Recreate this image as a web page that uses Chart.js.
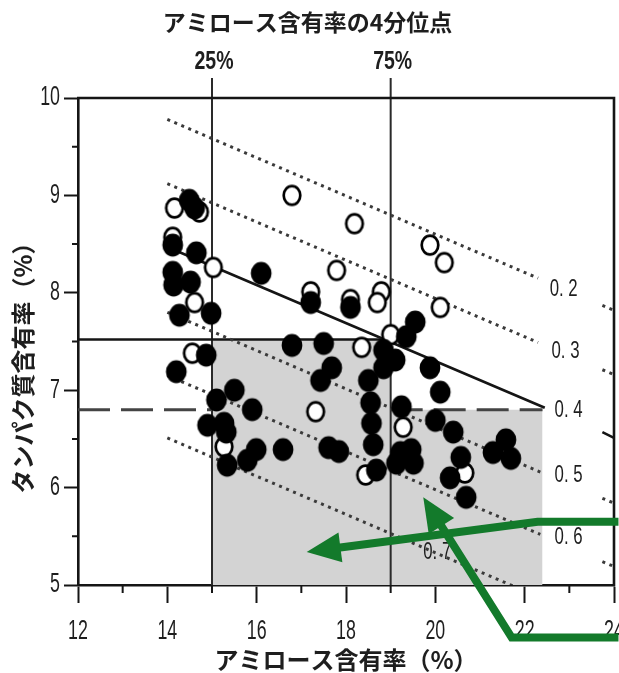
<!DOCTYPE html>
<html>
<head>
<meta charset="utf-8">
<script src="https://cdn.jsdelivr.net/npm/chart.js@4.4.1/dist/chart.umd.min.js"></script>
<style>
  html, body { margin: 0; padding: 0; background: #fff; }
  #wrap { width: 619px; height: 673px; }
</style>
</head>
<body>
<div id="wrap"><canvas id="amyloseChart"></canvas></div>
<script>
// =====================
// Data
// =====================
const filledPoints = [
  [14.49, 8.95], [14.61, 8.87], [14.12, 8.49], [14.65, 8.41], [14.12, 8.21], [14.14, 8.08],
  [14.52, 8.11], [14.27, 7.77], [14.98, 7.79], [16.10, 8.20], [14.87, 7.36], [14.20, 7.19],
  [15.50, 7.00], [15.10, 6.90], [15.90, 6.80], [14.90, 6.64], [15.27, 6.66], [15.32, 6.57],
  [15.34, 6.23], [15.79, 6.28], [15.99, 6.39], [16.59, 6.39], [16.79, 7.46], [17.50, 7.48],
  [17.21, 7.90], [18.10, 7.85], [17.68, 7.23], [17.43, 7.10], [18.84, 7.23], [18.50, 7.10],
  [18.84, 7.41], [19.10, 7.31], [19.35, 7.55], [19.55, 7.70], [18.55, 6.87], [18.57, 6.66],
  [18.61, 6.44], [18.68, 6.18], [19.24, 6.83], [17.61, 6.41], [17.84, 6.37], [19.22, 6.36],
  [19.46, 6.39], [19.51, 6.25], [19.13, 6.25], [19.88, 7.23], [20.11, 6.98], [20.00, 6.69],
  [20.40, 6.57], [20.57, 6.31], [20.33, 6.10], [20.69, 5.90], [21.29, 6.36], [21.58, 6.49],
  [21.69, 6.30]
];
const openPoints = [
  [14.16, 8.87], [14.72, 8.83], [16.79, 9.00], [18.19, 8.71], [19.88, 8.49], [20.20, 8.31],
  [15.03, 8.26], [17.79, 8.23], [20.11, 7.85], [14.61, 7.90], [17.21, 8.01], [18.10, 7.93],
  [18.79, 8.01], [18.70, 7.90], [19.00, 7.57], [14.56, 7.38], [17.32, 6.78], [18.35, 7.44],
  [19.28, 6.62], [18.44, 6.13], [15.27, 6.42], [20.66, 6.15], [14.12, 8.57]
];

const xTickValues = [12, 14, 16, 18, 20, 22, 24];
const xMinorTicks = [13, 15, 17, 19, 21, 23];
const yTickValues = [5, 6, 7, 8, 9, 10];
const yMinorTicks = [5.5, 6.5, 7.5, 8.5, 9.5];

const quartileX = [15, 19];
const quartileLabels = ['25%', '75%'];
const protein75 = 7.52;   // solid horizontal
const protein25 = 6.80;   // dashed horizontal
const shadeRight = 22.4;

// iso lines (0.4 is the solid regression line)
const isoLabels = ['0.2', '0.3', '0.4', '0.5', '0.6', '0.7'];
const isoStart = [[14, 9.78], [14, 9.12], [14, 8.47], [14, 7.80], [14, 7.15], [14, 6.51]];
const isoEnd = [[22.3, 8.15], [22.3, 7.49], [22.45, 6.82], [22.35, 6.16], [22.35, 5.52], [22.3, 4.88]];
const isoTailStart = [[23.74, 7.87], [23.74, 7.21], [23.74, 6.57], [23.74, 5.89], [23.74, 5.24], null];
const isoTailEnd = [[24, 7.82], [24, 7.16], [24, 6.51], [24, 5.84], [24, 5.19], null];
const isoLabelAt = [[22.56, 8.04], [22.60, 7.40], [22.67, 6.79], [22.67, 6.13], [22.67, 5.49], [19.73, 5.34]];

// green annotation arrows (last point is the tip)
const arrowA = [[24.1, 5.65], [22.29, 5.65], [17.12, 5.34]];
const arrowB = [[24.1, 4.46], [21.71, 4.46], [19.73, 5.90]];

// =====================
// Styles
// =====================
const jpFont = '"Noto Sans CJK JP", "Noto Sans", sans-serif';
const numFont = '"Liberation Sans", Arial, sans-serif';
const INK = '#151515';
const TEXT = '#1e1e1e';

function markerImage(filled) {
  const c = document.createElement('canvas');
  c.width = 24; c.height = 26;
  const g = c.getContext('2d');
  g.beginPath();
  if (filled) {
    g.ellipse(12, 13, 10.4, 11.4, 0, 0, Math.PI * 2);
    g.fillStyle = '#000';
    g.fill();
  } else {
    g.ellipse(12, 13, 8.3, 9.3, 0, 0, Math.PI * 2);
    g.fillStyle = '#fff';
    g.fill();
    g.lineWidth = 2.7;
    g.strokeStyle = '#000';
    g.stroke();
  }
  return c;
}

const toXY = arr => arr.map(p => ({ x: p[0], y: p[1] }));

// narrow text: the figure uses a condensed face, so squeeze a normal one
function narrowText(ctx, text, px, py, align, size, squeeze, weight) {
  ctx.save();
  ctx.translate(px, py);
  ctx.scale(squeeze, 1);
  ctx.font = (weight || 'normal') + ' ' + size + 'px ' + numFont;
  ctx.textAlign = align;
  ctx.textBaseline = 'middle';
  ctx.fillStyle = TEXT;
  ctx.fillText(text, 0, 0);
  ctx.restore();
}

// =====================
// Datasets
// =====================
const isoSets = isoLabels.map((lab, i) => {
  const pts = [{ x: isoStart[i][0], y: isoStart[i][1] }, { x: isoEnd[i][0], y: isoEnd[i][1] }];
  if (isoTailStart[i]) {
    pts.push({ x: 23.0, y: null });
    pts.push({ x: isoTailStart[i][0], y: isoTailStart[i][1] });
    pts.push({ x: isoTailEnd[i][0], y: isoTailEnd[i][1] });
  }
  const solid = lab === '0.4';
  return {
    type: 'line', label: 'iso ' + lab, data: pts,
    borderColor: solid ? INK : '#3a3a3a', borderWidth: solid ? 2.6 : 3,
    borderDash: solid ? [] : [3, 4.6], borderCapStyle: 'butt',
    pointRadius: 0, fill: false, order: solid ? 2 : 3
  };
});

const datasets = [
  { label: 'filled', data: toXY(filledPoints), pointStyle: markerImage(true), order: 0 },
  { label: 'open', data: toXY(openPoints), pointStyle: markerImage(false), order: 1 },
  ...isoSets,
  {
    type: 'line', label: 'q75', order: 4, pointRadius: 0, borderColor: INK, borderWidth: 2.6,
    data: [{ x: 12, y: protein75 }, { x: quartileX[1], y: protein75 }]
  },
  {
    type: 'line', label: 'q25', order: 4, pointRadius: 0, borderColor: '#444', borderWidth: 3,
    borderDash: [32, 11],
    data: [{ x: 12, y: protein25 }, { x: quartileX[0], y: protein25 }, { x: 17, y: null },
           { x: quartileX[1], y: protein25 }, { x: shadeRight, y: protein25 }]
  },
  ...quartileX.map(q => ({
    type: 'line', label: 'vq' + q, order: 4, pointRadius: 0, borderColor: '#2a2a2a', borderWidth: 2,
    clip: false, data: [{ x: q, y: 5 }, { x: q, y: 10.205 }]
  })),
  {
    type: 'line', label: 'shade', order: 10, pointRadius: 0, borderWidth: 0,
    backgroundColor: '#d3d3d3', fill: 'start',
    data: [{ x: quartileX[0], y: protein75 }, { x: quartileX[1], y: protein75 },
           { x: quartileX[1], y: protein25 }, { x: shadeRight, y: protein25 }]
  }
];

// =====================
// Extra drawing: frame, minor ticks, labels, arrows
// =====================
const extrasPlugin = {
  id: 'extras',
  afterDraw(chart) {
    const { ctx, chartArea: a, scales: { x, y } } = chart;
    ctx.save();

    // top and right frame
    ctx.strokeStyle = INK;
    ctx.lineWidth = 2.6;
    ctx.beginPath();
    ctx.moveTo(a.left - 1, a.top);
    ctx.lineTo(a.right, a.top);
    ctx.lineTo(a.right, a.bottom + 1);
    ctx.stroke();

    // minor ticks
    ctx.lineWidth = 2;
    ctx.beginPath();
    yMinorTicks.forEach(v => {
      const py = y.getPixelForValue(v);
      ctx.moveTo(a.left - 6, py); ctx.lineTo(a.left, py);
    });
    xMinorTicks.forEach(v => {
      const px = x.getPixelForValue(v);
      ctx.moveTo(px, a.bottom); ctx.lineTo(px, a.bottom + 8);
    });
    ctx.stroke();

    // tick labels
    xTickValues.forEach(v => narrowText(ctx, String(v), x.getPixelForValue(v), a.bottom + 47, 'center', 27, 0.66));
    yTickValues.forEach(v => narrowText(ctx, String(v), a.left - 18, y.getPixelForValue(v), 'right', 27, 0.66));

    // y axis title (sits a little below the middle in the figure)
    ctx.save();
    ctx.translate(23, 362);
    ctx.rotate(-Math.PI / 2);
    ctx.font = 'bold 24px ' + jpFont;
    ctx.fillStyle = TEXT;
    ctx.textAlign = 'center';
    ctx.textBaseline = 'middle';
    ctx.fillText('タンパク質含有率（%）', 0, 0);
    ctx.restore();

    // quartile labels above the frame
    quartileX.forEach((q, i) => narrowText(ctx, quartileLabels[i], x.getPixelForValue(q) + 2, a.top - 36, 'center', 25, 0.78, 'bold'));

    // iso line labels
    isoLabels.forEach((lab, i) => {
      const px = x.getPixelForValue(isoLabelAt[i][0]);
      const py = y.getPixelForValue(isoLabelAt[i][1]);
      narrowText(ctx, lab.replace('.', '. '), px, py, 'left', 24, 0.7);
    });

    // green arrows
    [arrowA, arrowB].forEach(arr => drawArrow(ctx, arr.map(p => [x.getPixelForValue(p[0]), y.getPixelForValue(p[1])])));
    ctx.restore();
  }
};

function drawArrow(ctx, pts) {
  const tip = pts[pts.length - 1];
  const prev = pts[pts.length - 2];
  const dx = tip[0] - prev[0], dy = tip[1] - prev[1];
  const len = Math.hypot(dx, dy);
  const ux = dx / len, uy = dy / len;
  const headLen = 34, halfW = 15;
  const bx = tip[0] - ux * headLen, by = tip[1] - uy * headLen;
  ctx.strokeStyle = '#137a2b';
  ctx.fillStyle = '#137a2b';
  ctx.lineWidth = 8;
  ctx.lineJoin = 'miter';
  ctx.beginPath();
  ctx.moveTo(pts[0][0], pts[0][1]);
  for (let i = 1; i < pts.length - 1; i++) ctx.lineTo(pts[i][0], pts[i][1]);
  ctx.lineTo(bx + ux * 4, by + uy * 4);
  ctx.stroke();
  ctx.beginPath();
  ctx.moveTo(tip[0], tip[1]);
  ctx.lineTo(bx - uy * halfW, by + ux * halfW);
  ctx.lineTo(bx + uy * halfW, by - ux * halfW);
  ctx.closePath();
  ctx.fill();
}

// =====================
// Chart
// =====================
new Chart(document.getElementById('amyloseChart'), {
  type: 'scatter',
  data: { datasets },
  options: {
    responsive: true,
    maintainAspectRatio: false,
    animation: false,
    layout: { padding: { left: 0, right: 4, top: 0, bottom: 0 } },
    plugins: {
      legend: { display: false },
      tooltip: { enabled: false },
      title: {
        display: true,
        text: 'アミロース含有率の4分位点',
        color: TEXT,
        font: { family: jpFont, size: 23, weight: 'bold' },
        padding: { top: 8, bottom: 62.4 }
      }
    },
    scales: {
      x: {
        type: 'linear', min: 12, max: 24,
        afterBuildTicks: s => { s.ticks = xTickValues.map(v => ({ value: v })); },
        afterFit: s => { s.height = 88; s.paddingLeft = 0; s.paddingRight = 0; },
        ticks: { display: false },
        grid: { drawOnChartArea: false, tickLength: 18, tickWidth: 2, tickColor: INK },
        border: { color: INK, width: 2.6 },
        title: {
          display: true, text: 'アミロース含有率（%）', color: TEXT,
          font: { family: jpFont, size: 24, weight: 'bold' }, padding: { top: 0, bottom: -1 }
        }
      },
      y: {
        type: 'linear', min: 5, max: 10,
        afterBuildTicks: s => { s.ticks = yTickValues.map(v => ({ value: v })); },
        afterFit: s => { s.width = 78; s.paddingTop = 0; s.paddingBottom = 0; },
        ticks: { display: false },
        grid: { drawOnChartArea: false, tickLength: 14, tickWidth: 2, tickColor: INK },
        border: { color: INK, width: 2.6 }
      }
    }
  },
  plugins: [extrasPlugin]
});
</script>
</body>
</html>
